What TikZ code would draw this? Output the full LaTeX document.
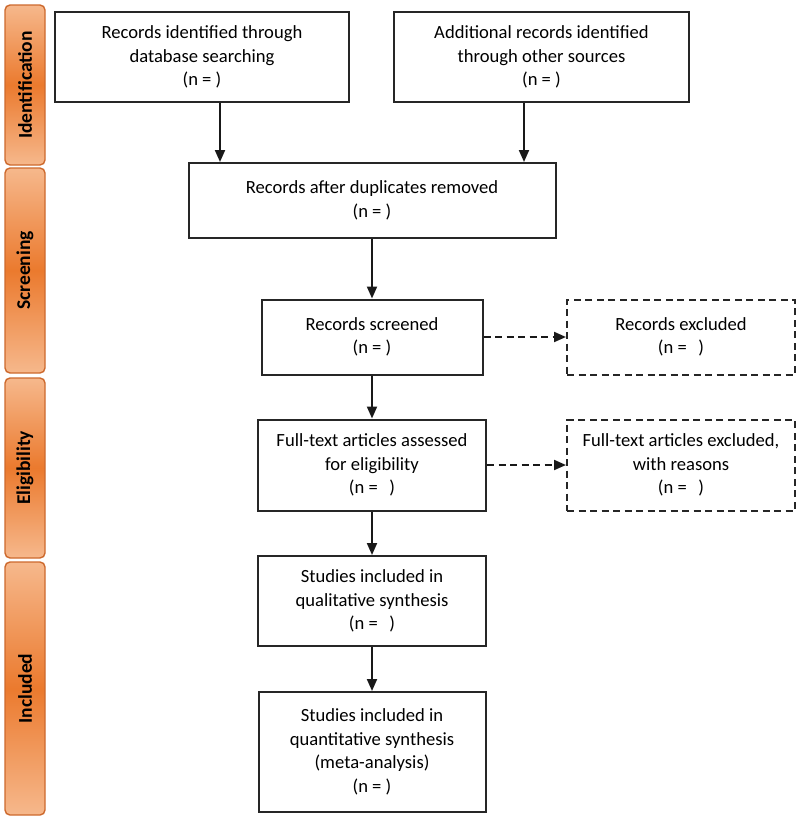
\documentclass[tikz,border=0pt]{standalone}
\usepackage{fontspec}
\setmainfont{Carlito}
\usetikzlibrary{arrows.meta,positioning}
\definecolor{phlight}{RGB}{246,184,140}
\definecolor{phdark}{RGB}{235,122,46}
\definecolor{phedge}{RGB}{205,105,45}

\begin{document}
\begin{tikzpicture}[x=1pt,y=-1pt]
    %
    % `phase' is used for the orange bars on the left.
    % `box' is used for the steps, `outbox' for the excluded records.
    \tikzstyle{phase} = [draw=phedge,line width=1.4pt,rounded corners=5pt,top color=phlight,bottom color=phlight,middle color=phdark,minimum width=40pt,inner sep=0pt,font=\fontsize{19.5}{22}\selectfont\bfseries]
    \tikzstyle{box} = [draw=black!85,line width=2pt,align=center,inner sep=0pt,font=\fontsize{18.6}{23.6}\selectfont]
    \tikzstyle{outbox} = [box,dash pattern=on 7pt off 4.5pt]
    \tikzstyle{arr} = [-{Triangle[length=12pt,width=10pt]},line width=2pt,draw=black!90]
    \tikzstyle{dasharr} = [arr,dash pattern=on 7pt off 4.5pt]
    \useasboundingbox (0,0) rectangle (800,819);
    %
    % Phases
    \node[phase,minimum height=160pt] (ident) at (25,85) {\rotatebox{90}{Identification}};
    \node[phase,minimum height=205pt] (screen) at (25,270.5) {\rotatebox{90}{Screening}};
    \node[phase,minimum height=180pt] (elig) at (25,468) {\rotatebox{90}{Eligibility}};
    \node[phase,minimum height=253pt] (incl) at (25,688.5) {\rotatebox{90}{Included}};
    %
    % Identification
    \node[box,minimum width=294pt,minimum height=90pt] (db) at (202,57) {Records identified through\\database searching\\(n = )};
    \node[box,minimum width=295pt,minimum height=90pt] (other) at (541.5,57) {Additional records identified\\through other sources\\(n = )};
    %
    % Screening
    \node[box,minimum width=367pt,minimum height=75pt] (dup) at (372,200.5) {Records after duplicates removed\\(n = )};
    \node[box,minimum width=221pt,minimum height=75pt] (screened) at (372,337) {Records screened\\(n = )};
    \node[outbox,minimum width=228pt,minimum height=75pt] (excl) at (681,337) {Records excluded\\(n = \ \,)};
    %
    % Eligibility
    \node[box,minimum width=228pt,minimum height=91pt] (full) at (372,465) {Full-text articles assessed\\for eligibility\\(n = \ \,)};
    \node[outbox,minimum width=228pt,minimum height=91pt] (fullexcl) at (681,465) {Full-text articles excluded,\\with reasons\\(n = \ \,)};
    %
    % Included
    \node[box,minimum width=228pt,minimum height=90pt] (qual) at (372,601) {Studies included in\\qualitative synthesis\\(n = \ \,)};
    \node[box,minimum width=227pt,minimum height=120pt] (quant) at (372,752) {Studies included in\\quantitative synthesis\\(meta-analysis)\\(n = )};
    %
    % Arrows
    \coordinate (in1) at ([xshift=32.5pt]dup.north west);
    \coordinate (in2) at ([xshift=-32.5pt]dup.north east);
    \draw[arr] (db.south -| in1) -- (in1);
    \draw[arr] (other.south -| in2) -- (in2);
    \draw[arr] (dup.south) -- (screened.north);
    \draw[arr] (screened.south) -- (full.north);
    \draw[arr] (full.south) -- (qual.north);
    \draw[arr] (qual.south) -- (quant.north);
    \draw[dasharr] (screened.east) -- (excl.west);
    \draw[dasharr] (full.east) -- (fullexcl.west);
    %
\end{tikzpicture}
\end{document}
